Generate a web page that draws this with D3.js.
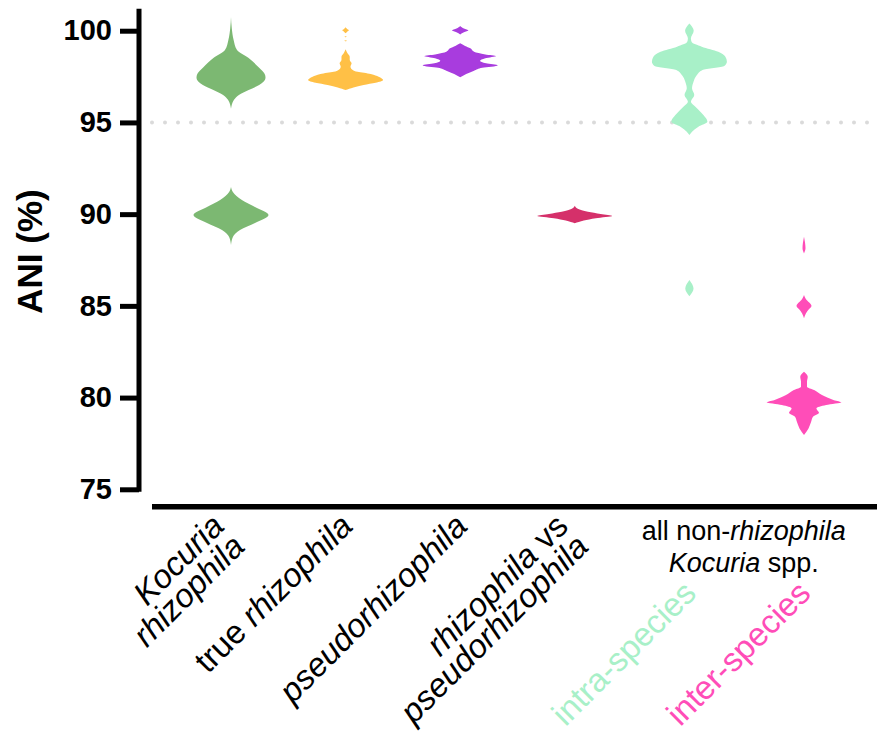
<!DOCTYPE html>
<html>
<head>
<meta charset="utf-8">
<script src="https://cdn.jsdelivr.net/npm/d3@7"></script>
<style>
body {
    margin: 0;
    background: #fff;
}
svg text {
    font-family: "Liberation Sans", Arial, sans-serif;
    white-space: pre;
}
</style>
</head>
<body>
<svg id="chart" width="877" height="734"></svg>
<script>

const categories = ['kRhizophila', 'trueRhizophila', 'pseudoRhizophila', 'rhizoVsPseudo', 'intra', 'inter'];
const colors = ['#7cb872', '#ffc046', '#a83cde', '#d5306a', '#a8f0c8', '#ff4db8'];
const yTicks = [75, 80, 85, 90, 95, 100];
const threshold = 95;

// x-axis labels, each line is a list of [text, italic]
const catLabels = [
    [[['Kocuria', 1]], [['rhizophila', 1]]],
    [[['true ', 0], ['rhizophila', 1]]],
    [[['pseudorhizophila', 1]]],
    [[['rhizophila', 1], [' vs', 0]], [['pseudorhizophila', 1]]]
];
const groupLabel = [[['all non-', 0], ['rhizophila', 1]], [['Kocuria', 1], [' spp.', 0]]];
const subLabels = ['intra-species', 'inter-species'];

// violin outlines: [ANI %, relative half width], null = gap
const kRhizophila = [
    [100.75, 0], [100.15, 0.02], [99.49, 0.07], [98.95, 0.16], [98.51, 0.47], [98.02, 0.73],
    [97.58, 0.91], [97.42, 0.92], [97.04, 0.75], [96.77, 0.47], [96.50, 0.21], [96.23, 0.08], [95.74, 0],
    null,
    [91.48, 0], [91.21, 0.05], [90.77, 0.29], [90.39, 0.64], [89.96, 1.0], [89.52, 0.64],
    [89.14, 0.24], [88.76, 0.05], [88.32, 0]
];
const trueRhizophila = [
    [100.19, 0], [100.08, 0.05], [100.02, 0.09], [99.96, 0.05], [99.86, 0], null,
    [99.70, 0], [99.67, 0.03], [99.64, 0], null,
    [99.48, 0], [99.45, 0.035], [99.42, 0], null,
    [98.99, 0], [98.77, 0.05], [98.58, 0.11], [98.40, 0.11], [98.22, 0.16], [98.04, 0.13], [97.86, 0.19],
    [97.76, 0.32], [97.64, 0.67], [97.49, 0.88], [97.31, 1.0], [97.16, 0.8], [97.04, 0.48], [96.91, 0.21], [96.77, 0]
];
const pseudoRhizophila = [
    [100.26, 0], [100.12, 0.1], [100.02, 0.22], [99.92, 0.1], [99.80, 0], null,
    [99.31, 0], [99.17, 0.13], [99.04, 0.27], [98.85, 0.37], [98.71, 0.67], [98.62, 0.96], [98.50, 0.67],
    [98.36, 0.53], [98.22, 0.69], [98.11, 1.0], [97.98, 0.59], [97.82, 0.37], [97.64, 0.16], [97.46, 0]
];
const rhizoVsPseudo = [
    [90.46, 0], [90.30, 0.08], [90.13, 0.35], [90.01, 0.69], [89.90, 1.0], [89.78, 0.56], [89.65, 0.24], [89.50, 0]
];
const intraSpecies = [
    [100.40, 0], [100.00, 0.115], [99.59, 0.04], [99.38, 0.06], [99.13, 0.33], [98.85, 0.77], [98.58, 0.96],
    [98.31, 1.0], [98.08, 0.93], [97.86, 0.35], [97.58, 0.2], [97.22, 0.11], [96.86, 0.07], [96.49, 0.13],
    [96.13, 0.04], [95.86, 0.16], [95.50, 0.33], [95.04, 0.48], [94.77, 0.24], [94.49, 0.07], [94.31, 0],
    null,
    [86.41, 0], [85.94, 0.11], [85.53, 0]
];
const interSpecies = [
    [88.77, 0], [88.14, 0.04], [87.86, 0], null,
    [85.59, 0], [85.32, 0.07], [85.14, 0.16], [84.99, 0.2], [84.81, 0.13], [84.59, 0.05], [84.32, 0], null,
    [81.41, 0], [81.13, 0.1], [80.86, 0.08], [80.59, 0.08], [80.41, 0.27], [80.14, 0.48], [79.86, 0.8],
    [79.74, 1.0], [79.59, 0.59], [79.41, 0.33], [79.17, 0.4], [78.95, 0.24], [78.68, 0.19], [78.32, 0.12], [77.96, 0]
];
const violins = [kRhizophila, trueRhizophila, pseudoRhizophila, rhizoVsPseudo, intraSpecies, interSpecies];

const svg = d3.select('svg#chart');

const AXIS_X = 139,
    XAXIS_Y = 506.7,
    MAX_HALF = 37.5;

const x = d3.scalePoint().domain(categories).range([231, 804]);
const y = d3.scaleLinear().domain([75, 101.2]).range([489.3, 8.7]);
const w = d3.scaleLinear().domain([0, 1]).range([0, MAX_HALF]);

// 95% species threshold
svg.append('line')
    .attr('x1', 152).attr('x2', 877)
    .attr('y1', y(threshold)).attr('y2', y(threshold))
    .attr('stroke', '#dadada')
    .attr('stroke-width', 4)
    .attr('stroke-linecap', 'round')
    .attr('stroke-dasharray', '0,13');

// violins
const violinG = svg.append('g');
violins.forEach((data, i) => {
    const cx = x(categories[i]);
    const area = d3.area()
        .defined(d => d !== null)
        .y(d => y(d[0]))
        .x0(d => cx - w(d[1]))
        .x1(d => cx + w(d[1]))
        .curve(d3.curveMonotoneY);
    violinG.append('path')
        .attr('d', area(data))
        .attr('fill', colors[i]);
});

// y axis
const yAxisG = svg.append('g')
    .attr('transform', `translate(${AXIS_X},0)`)
    .call(d3.axisLeft(y).tickValues(yTicks).tickSize(19).tickPadding(8));
yAxisG.select('.domain').remove();
yAxisG.selectAll('.tick line').attr('stroke', '#000').attr('stroke-width', 5);
yAxisG.selectAll('.tick text')
    .attr('fill', '#000')
    .style('font-size', '29px')
    .style('font-weight', 'bold');
yAxisG.append('line')
    .attr('x1', 0).attr('x2', 0)
    .attr('y1', y.range()[1]).attr('y2', y(75) + 2.5)
    .attr('stroke', '#000')
    .attr('stroke-width', 5);

svg.append('text')
    .attr('transform', 'translate(42,251.5) rotate(-90)')
    .attr('text-anchor', 'middle')
    .style('font-size', '35px')
    .style('font-weight', 'bold')
    .text('ANI (%)');

// x axis
svg.append('line')
    .attr('x1', 152).attr('x2', 877)
    .attr('y1', XAXIS_Y).attr('y2', XAXIS_Y)
    .attr('stroke', '#000')
    .attr('stroke-width', 5.5);

function addLines(text, lines, lineHeight, xPos) {
    lines.forEach((line, li) => {
        const t = text.append('tspan')
            .attr('x', xPos)
            .attr('dy', li === 0 ? 0 : lineHeight);
        line.forEach(seg => {
            t.append('tspan')
                .style('font-style', seg[1] ? 'italic' : 'normal')
                .text(seg[0]);
        });
    });
}

// rotated category labels
catLabels.forEach((lines, i) => {
    const ax = x(categories[i]) + (lines.length > 1 ? -5 : 9);
    const t = svg.append('text')
        .attr('transform', `translate(${ax},528) rotate(-45)`)
        .attr('text-anchor', 'end')
        .attr('fill', '#000')
        .style('font-size', '33px');
    addLines(t, lines, 29, 0);
});

// grouped label for non-rhizophila species
const gx = (x('intra') + x('inter')) / 2 - 3;
const gt = svg.append('text')
    .attr('transform', `translate(${gx},540)`)
    .attr('text-anchor', 'middle')
    .attr('fill', '#000')
    .style('font-size', '27px');
addLines(gt, groupLabel, 32, 0);

subLabels.forEach((label, i) => {
    const c = categories[4 + i];
    svg.append('text')
        .attr('transform', `translate(${x(c) + 8.5},595) rotate(-45)`)
        .attr('text-anchor', 'end')
        .attr('fill', colors[4 + i])
        .style('font-size', '33px')
        .text(label);
});

</script>
</body>
</html>
